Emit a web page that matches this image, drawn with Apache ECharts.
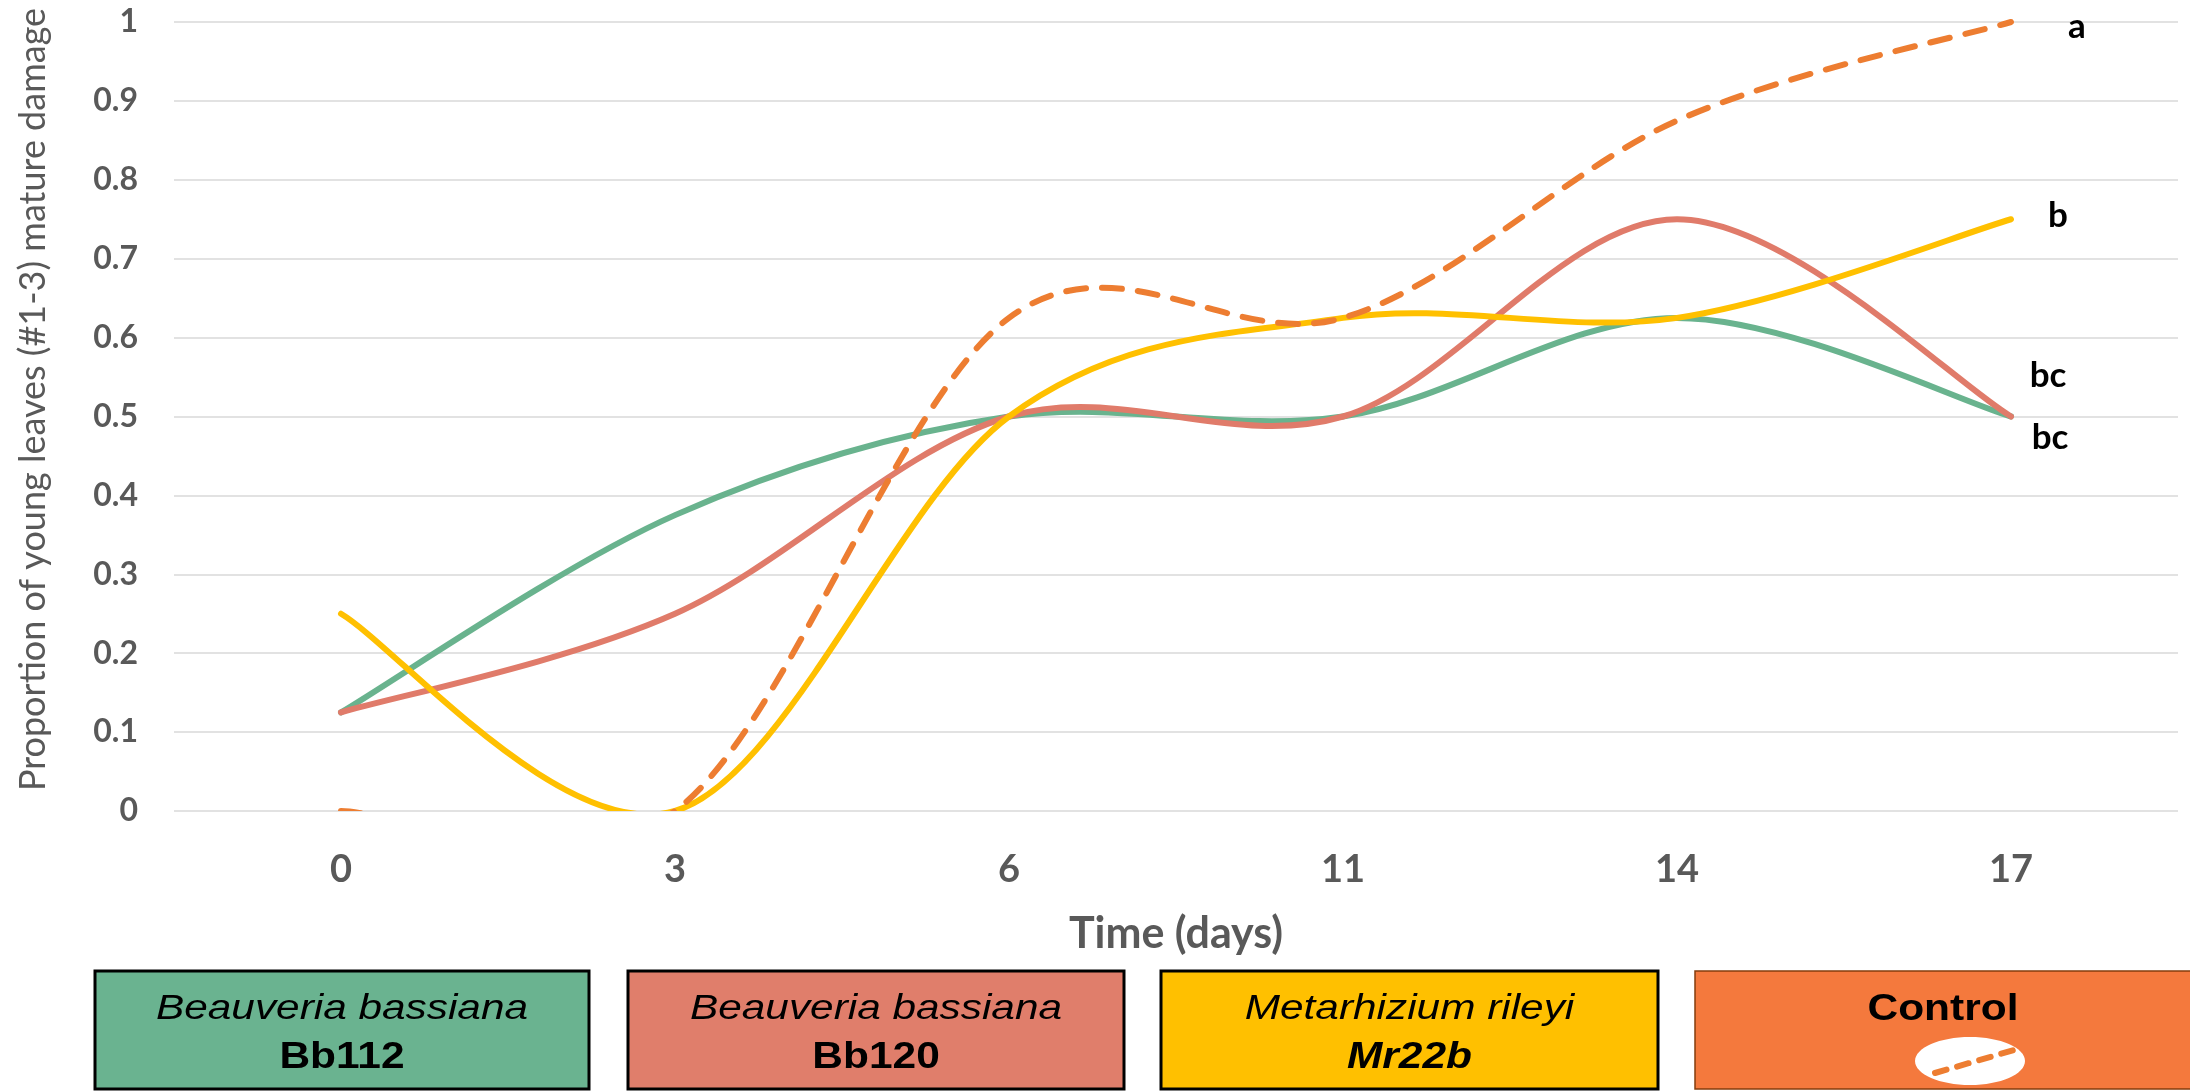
<!DOCTYPE html>
<html>
<head>
<meta charset="utf-8">
<script src="https://cdn.jsdelivr.net/npm/echarts@6/dist/echarts.min.js"></script>
<style>
html,body{margin:0;padding:0;background:#fff;}
#chart{width:2190px;height:1091px;}
</style>
</head>
<body>
<div id="chart"></div>
<script>
const days = ['0', '3', '6', '11', '14', '17'];
const bb112 = [0.125, 0.375, 0.5, 0.5, 0.625, 0.5];
const bb120 = [0.125, 0.25, 0.5, 0.5, 0.75, 0.5];
const mr22b = [0.25, 0, 0.5, 0.625, 0.625, 0.75];
const control = [0, 0, 0.625, 0.625, 0.875, 1];
const seriesNames = ['Bb112', 'Bb120', 'Mr22b', 'Control'];
const endLetters = ['bc', 'bc', 'b', 'a'];
const legendSpecies = ['Beauveria bassiana', 'Beauveria bassiana', 'Metarhizium rileyi', 'Control'];
const legendCodes = ['Bb112', 'Bb120', 'Mr22b', ''];

const colors = ['#69B38E', '#E07B6A', '#FFC000', '#ED7D31'];
const boxFills = ['#6AB390', '#E07E6B', '#FFC000', '#F4793D'];
const labelOffsets = [[39, 21], [37, -41], [47, -4], [66, 5]];

const chart = echarts.init(document.getElementById('chart'), null, {renderer: 'canvas'});

// Excel-like smoothing (Catmull-Rom as cubic Bezier), computed from points
// that are converted to pixels by the chart's own axes (api.coord).
function smoothPath(pts) {
  let d = 'M' + pts[0][0] + ' ' + pts[0][1];
  const n = pts.length;
  for (let i = 0; i < n - 1; i++) {
    const p0 = pts[Math.max(i - 1, 0)];
    const p1 = pts[i];
    const p2 = pts[i + 1];
    const p3 = pts[Math.min(i + 2, n - 1)];
    const c1x = p1[0] + (p2[0] - p0[0]) / 6;
    const c1y = p1[1] + (p2[1] - p0[1]) / 6;
    const c2x = p2[0] - (p3[0] - p1[0]) / 6;
    const c2y = p2[1] - (p3[1] - p1[1]) / 6;
    d += ' C' + c1x + ' ' + c1y + ' ' + c2x + ' ' + c2y + ' ' + p2[0] + ' ' + p2[1];
  }
  return d;
}

function makeSeries(vals, idx) {
  return {
    name: seriesNames[idx],
    type: 'custom',
    coordinateSystem: 'cartesian2d',
    data: vals.map((v, i) => [i, v]),
    encode: {x: 0, y: 1},
    clip: false,
    z: 2 + idx,
    silent: true,
    renderItem: function (params, api) {
      if (params.dataIndex !== 0) return null;
      const cs = params.coordSys;
      const pts = vals.map((v, i) => api.coord([i, v]));
      const last = pts[pts.length - 1];
      const off = labelOffsets[idx];
      return {
        type: 'group',
        children: [
          {
            type: 'group',
            clipPath: {
              type: 'rect',
              shape: {x: cs.x, y: cs.y - 12, width: cs.width, height: cs.height + 12}
            },
            children: [{
              type: 'path',
              shape: {pathData: smoothPath(pts)},
              style: {
                fill: null,
                stroke: colors[idx],
                lineWidth: 6,
                lineCap: 'round',
                lineJoin: 'round',
                lineDash: idx === 3 ? [20, 16] : null
              }
            }]
          },
          {
            type: 'text',
            x: last[0] + off[0],
            y: last[1] + off[1],
            style: {
              text: endLetters[idx],
              fill: '#000',
              font: 'bold 35px Lato',
              textAlign: 'center',
              textVerticalAlign: 'middle'
            }
          }
        ]
      };
    }
  };
}

const allSeries = [bb112, bb120, mr22b, control].map(makeSeries);

// legend boxes
const boxX = [95, 628, 1161, 1695];
const boxW = [494, 496, 497, 500];
const graphics = [];
boxX.forEach((x, i) => {
  graphics.push({
    type: 'rect',
    shape: {x: x, y: 971, width: boxW[i], height: 118},
    style: {
      fill: boxFills[i],
      stroke: i === 3 ? '#843C0C' : '#000',
      lineWidth: i === 3 ? 1.5 : 3
    }
  });
  const cx = x + boxW[i] / 2;
  if (i < 3) {
    graphics.push({
      type: 'text', x: cx, y: 1009, scaleX: 1.21,
      style: {
        text: legendSpecies[i], fill: '#000',
        font: 'italic 35px "Liberation Sans", Arial, sans-serif',
        textAlign: 'center', textVerticalAlign: 'middle'
      }
    });
    graphics.push({
      type: 'text', x: cx, y: 1058, scaleX: 1.18,
      style: {
        text: legendCodes[i], fill: '#000',
        font: (i === 2 ? 'italic ' : '') + 'bold 36px "Liberation Sans", Arial, sans-serif',
        textAlign: 'center', textVerticalAlign: 'middle'
      }
    });
  } else {
    graphics.push({
      type: 'text', x: 1943, y: 1010, scaleX: 1.18,
      style: {
        text: legendSpecies[i], fill: '#000',
        font: 'bold 36px "Liberation Sans", Arial, sans-serif',
        textAlign: 'center', textVerticalAlign: 'middle'
      }
    });
    graphics.push({
      type: 'ellipse',
      shape: {cx: 1970, cy: 1061, rx: 55, ry: 24},
      style: {fill: '#fff'}
    });
    graphics.push({
      type: 'line',
      shape: {x1: 1935, y1: 1073, x2: 2014, y2: 1050},
      style: {stroke: colors[3], lineWidth: 6, lineDash: [12, 11], lineCap: 'round'}
    });
  }
});

const option = {
  animation: false,
  backgroundColor: '#fff',
  grid: {left: 174, right: 12, top: 22, bottom: 280, containLabel: false},
  xAxis: {
    type: 'category',
    data: days,
    boundaryGap: true,
    name: 'Time (days)',
    nameLocation: 'middle',
    nameGap: 102,
    nameTextStyle: {fontFamily: 'Lato', fontWeight: 'bold', fontSize: 43, color: '#595959'},
    axisLine: {show: false},
    axisTick: {show: false},
    axisLabel: {fontFamily: 'Lato', fontWeight: 'bold', fontSize: 38, color: '#595959', margin: 40}
  },
  yAxis: {
    type: 'value',
    min: 0,
    max: 1,
    interval: 0.1,
    name: 'Proportion of young leaves (#1-3) mature damage',
    nameLocation: 'middle',
    nameGap: 123,
    nameTextStyle: {fontFamily: 'Lato', fontSize: 36, color: '#595959', padding: [0, 0, 0, 34]},
    axisLine: {show: false},
    axisTick: {show: false},
    splitLine: {lineStyle: {color: '#D9D9D9', width: 1.5}},
    axisLabel: {fontFamily: 'Lato', fontWeight: 'bold', fontSize: 32, color: '#595959', margin: 36}
  },
  series: allSeries,
  graphic: graphics
};
chart.setOption(option);
</script>
</body>
</html>
